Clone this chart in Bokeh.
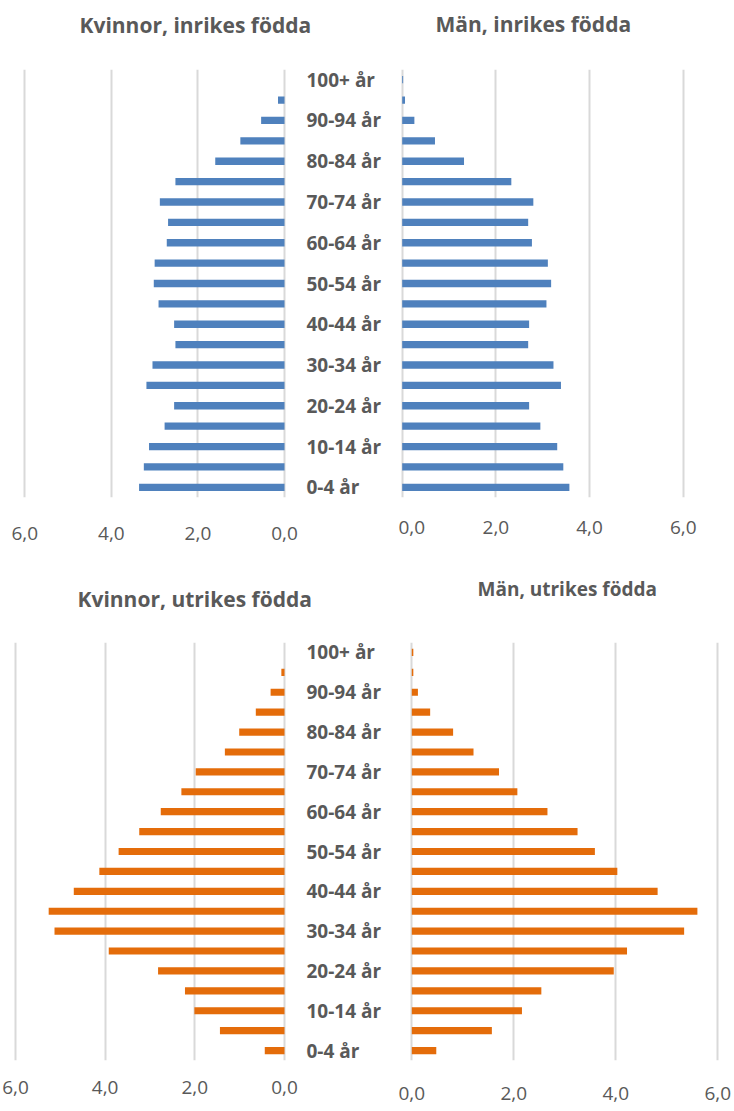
from bokeh.plotting import figure
from bokeh.models import Range1d, FixedTicker, LinearAxis, ColumnDataSource
from bokeh.core.properties import value
from bokeh.layouts import column, row
from bokeh.embed import file_html
from bokeh.resources import INLINE

# ---- data (percent of population, by age group, bottom to top) ----
age_groups = ["0-4 år", "5-9 år", "10-14 år", "15-19 år", "20-24 år", "25-29 år",
              "30-34 år", "35-39 år", "40-44 år", "45-49 år", "50-54 år", "55-59 år",
              "60-64 år", "65-69 år", "70-74 år", "75-79 år", "80-84 år", "85-89 år",
              "90-94 år", "95-99 år", "100+ år"]
shown_age_labels = ["0-4 år", "10-14 år", "20-24 år", "30-34 år", "40-44 år", "50-54 år",
                    "60-64 år", "70-74 år", "80-84 år", "90-94 år", "100+ år"]
x_ticks = [0, 2, 4, 6]
x_tick_labels = ["0,0", "2,0", "4,0", "6,0"]

women_domestic = [3.36, 3.25, 3.13, 2.77, 2.55, 3.19, 3.05, 2.52, 2.55, 2.91, 3.02,
                  3.00, 2.72, 2.69, 2.88, 2.52, 1.60, 1.02, 0.54, 0.15, 0.0]
men_domestic = [3.57, 3.44, 3.31, 2.95, 2.71, 3.39, 3.23, 2.69, 2.71, 3.08, 3.18,
                3.11, 2.77, 2.69, 2.80, 2.33, 1.32, 0.70, 0.26, 0.06, 0.02]
women_foreign = [0.44, 1.44, 2.01, 2.22, 2.82, 3.92, 5.13, 5.26, 4.70, 4.13, 3.70,
                 3.24, 2.76, 2.30, 1.98, 1.33, 1.01, 0.64, 0.31, 0.07, 0.0]
men_foreign = [0.48, 1.57, 2.16, 2.54, 3.96, 4.22, 5.34, 5.60, 4.82, 4.03, 3.59,
               3.25, 2.66, 2.07, 1.71, 1.21, 0.81, 0.36, 0.12, 0.03, 0.03]

titles = ["Kvinnor, inrikes födda", "Män, inrikes födda",
          "Kvinnor, utrikes födda", "Män, utrikes födda"]

BLUE = "#4f81bd"
ORANGE = "#e46c0a"
TEXT = "#595959"
GRID = "#d9d9d9"
FONT = "Open Sans"
PAGE_W = 734


def make_panel(values, color, side, fig_left, fig_top, fig_w, fig_h,
               px0, px6, frame_left, frame_right, frame_top, frame_bottom,
               tick_standoff, show_categories):
    s = abs(px6 - px0) / 6.0
    if side == "left":
        xr = Range1d((px0 - frame_left) / s, (px0 - frame_right) / s)
    else:
        xr = Range1d((frame_left - px0) / s, (frame_right - px0) / s)
    n = len(age_groups)
    p = figure(width=fig_w, height=fig_h, x_range=xr, y_range=Range1d(-0.5, n - 0.5),
               output_backend="svg", toolbar_location=None, y_axis_location=None,
               min_border_left=frame_left - fig_left,
               min_border_right=fig_left + fig_w - frame_right,
               min_border_top=frame_top - fig_top,
               min_border_bottom=fig_top + fig_h - frame_bottom)
    p.outline_line_color = None
    p.background_fill_color = "white"
    p.border_fill_color = "white"

    src = ColumnDataSource(dict(pos=list(range(n)), age=age_groups, val=values))
    p.hbar(y="pos", left=0, right="val", height=0.36, source=src,
           fill_color=color, line_color=None)

    p.xaxis.ticker = FixedTicker(ticks=x_ticks)
    p.xaxis.major_label_overrides = dict(zip(x_ticks, x_tick_labels))
    p.xaxis.axis_line_color = None
    p.xaxis.major_tick_line_color = None
    p.xaxis.minor_tick_line_color = None
    p.xaxis.major_tick_out = 0
    p.xaxis.axis_label_standoff = 0
    p.xaxis.major_label_standoff = tick_standoff
    p.xaxis.major_label_text_font = FONT
    p.xaxis.major_label_text_font_size = "19px"
    p.xaxis.major_label_text_color = TEXT
    p.xgrid.grid_line_color = GRID
    p.xgrid.grid_line_width = 2
    p.ygrid.visible = False

    if show_categories:
        positions = [age_groups.index(a) for a in shown_age_labels]
        ax = LinearAxis(ticker=FixedTicker(ticks=positions),
                        major_label_overrides={i: age_groups[i] for i in positions})
        ax.axis_line_color = None
        ax.major_tick_line_color = None
        ax.minor_tick_line_color = None
        ax.major_tick_out = 0
        ax.axis_label_standoff = 0
        ax.major_label_standoff = 19
        ax.major_label_text_font = FONT
        ax.major_label_text_font_size = "19px"
        ax.major_label_text_font_style = "bold"
        ax.major_label_text_color = TEXT
        p.add_layout(ax, "right")
    return p


def title_strip(top, bottom, items):
    # a strip whose frame covers the whole strip; coordinates are page pixels
    p = figure(width=PAGE_W, height=bottom - top, x_range=Range1d(0, PAGE_W),
               y_range=Range1d(bottom, top), output_backend="svg",
               toolbar_location=None, x_axis_location=None, y_axis_location=None,
               min_border=0)
    p.outline_line_color = None
    p.grid.visible = False
    for text, x, y, size in items:
        p.text(x=[x], y=[y], text=[text], text_align="left", text_baseline="alphabetic",
               text_font=value(FONT), text_font_size=size, text_font_style="bold",
               text_color=TEXT)
    return p


top_titles = title_strip(0, 48, [(titles[0], 79, 24, "21px"),
                                 (titles[1], 435, 23, "21px")])
tl = make_panel(women_domestic, BLUE, "left",
                0, 48, 398, 512, 284, 24.3, 20, 287, 69, 502, 29, True)
tr = make_panel(men_domestic, BLUE, "right",
                398, 48, 336, 512, 401.7, 682.7, 399, 686, 64, 497, 23, False)
bottom_titles = title_strip(560, 615, [(titles[2], 77, 598, "21px"),
                                       (titles[3], 477, 588, "19px")])
bl = make_panel(women_foreign, ORANGE, "left",
                0, 615, 398, 496, 284, 15, 11, 287, 642, 1068, 20, True)
br = make_panel(men_foreign, ORANGE, "right",
                398, 615, 336, 496, 411.3, 717.3, 408, 721, 629, 1060, 26, False)

layout = column(top_titles, row(tl, tr), bottom_titles, row(bl, br))
open("out.html", "w").write(file_html(layout, INLINE))
